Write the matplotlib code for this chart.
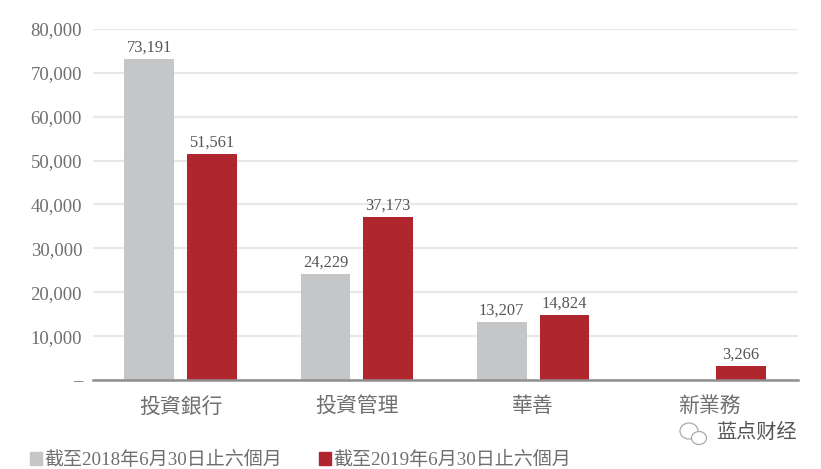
import numpy as np
import matplotlib
matplotlib.use("Agg")
import matplotlib.pyplot as plt
from matplotlib.patches import Ellipse, Patch

plt.rcParams['font.family'] = ['Liberation Serif', 'Noto Sans CJK TC', 'DejaVu Sans']

categories = ["投資銀行", "投資管理", "華善", "新業務"]
h1_2018 = [73191, 24229, 13207, 0]
h1_2019 = [51561, 37173, 14824, 3266]
yticks = [0, 10000, 20000, 30000, 40000, 50000, 60000, 70000, 80000]
ylabels = ["–", "10,000", "20,000", "30,000", "40,000", "50,000", "60,000", "70,000", "80,000"]
legend_labels = ["截至2018年6月30日止六個月", "截至2019年6月30日止六個月"]

W, H = 821, 469
grey = "#c5c6c8"
red = "#b0262e"
txt = "#6f6f6f"

fig = plt.figure(figsize=(W/100, H/100), dpi=100)
ax = fig.add_axes([92.5/W, 1-380/H, (797.5-92.5)/W, (380-29)/H])

x = np.arange(len(categories))
w = 0.283
off = 0.178
ax.bar(x-off, h1_2018, w, color=grey, zorder=3)
ax.bar(x+off, h1_2019, w, color=red, zorder=3)

for xi, v in zip(x, h1_2018):
    if v > 0:
        ax.annotate(f"{v:,}", (xi-off, v), xytext=(0, 2.5), textcoords="offset points",
                    ha="center", va="bottom", fontsize=11.8, color="#555555")
for xi, v in zip(x, h1_2019):
    ax.annotate(f"{v:,}", (xi+off, v), xytext=(0, 2.5), textcoords="offset points",
                ha="center", va="bottom", fontsize=11.8, color="#555555")

ax.set_xlim(-0.5, 3.5)
ax.set_ylim(0, 80000)
ax.set_yticks(yticks)
ax.set_yticklabels(ylabels, fontsize=13.5, color=txt)
ax.set_xticks(x)
ax.set_xticklabels(categories, fontsize=15, color=txt)
ax.tick_params(axis="both", length=0)
ax.tick_params(axis="y", pad=7.5)
ax.tick_params(axis="x", pad=12.5)
ax.grid(axis="y", color="#e8e8e8", lw=1.6, zorder=0)
ax.set_axisbelow(True)
for s in ["top", "right", "left"]:
    ax.spines[s].set_visible(False)
ax.spines["bottom"].set_color("#8e8e8e")
ax.spines["bottom"].set_linewidth(1.8)
ax.spines["bottom"].set_zorder(5)

handles = [Patch(color=grey), Patch(color=red)]
fig.legend(handles, legend_labels, loc="lower left", bbox_to_anchor=(26/W, -4/H), ncol=2,
           frameon=False, fontsize=13.7, labelcolor=txt, handlelength=0.63, handleheight=0.65,
           handletextpad=0.15, columnspacing=1.9, borderpad=0.2, borderaxespad=0)

# watermark
fig.text(716/W, 1-433/H, "蓝点财经", fontsize=14.5, color="#555555", ha="left", va="center")
fig.add_artist(Ellipse((689/W, 1-431/H), 18/W, 16/H, fc="white", ec="#aaaaaa", lw=0.9, transform=fig.transFigure))
fig.add_artist(Ellipse((699/W, 1-438/H), 15/W, 13/H, fc="white", ec="#aaaaaa", lw=0.9, transform=fig.transFigure))

fig.savefig("out.png", dpi=100)
